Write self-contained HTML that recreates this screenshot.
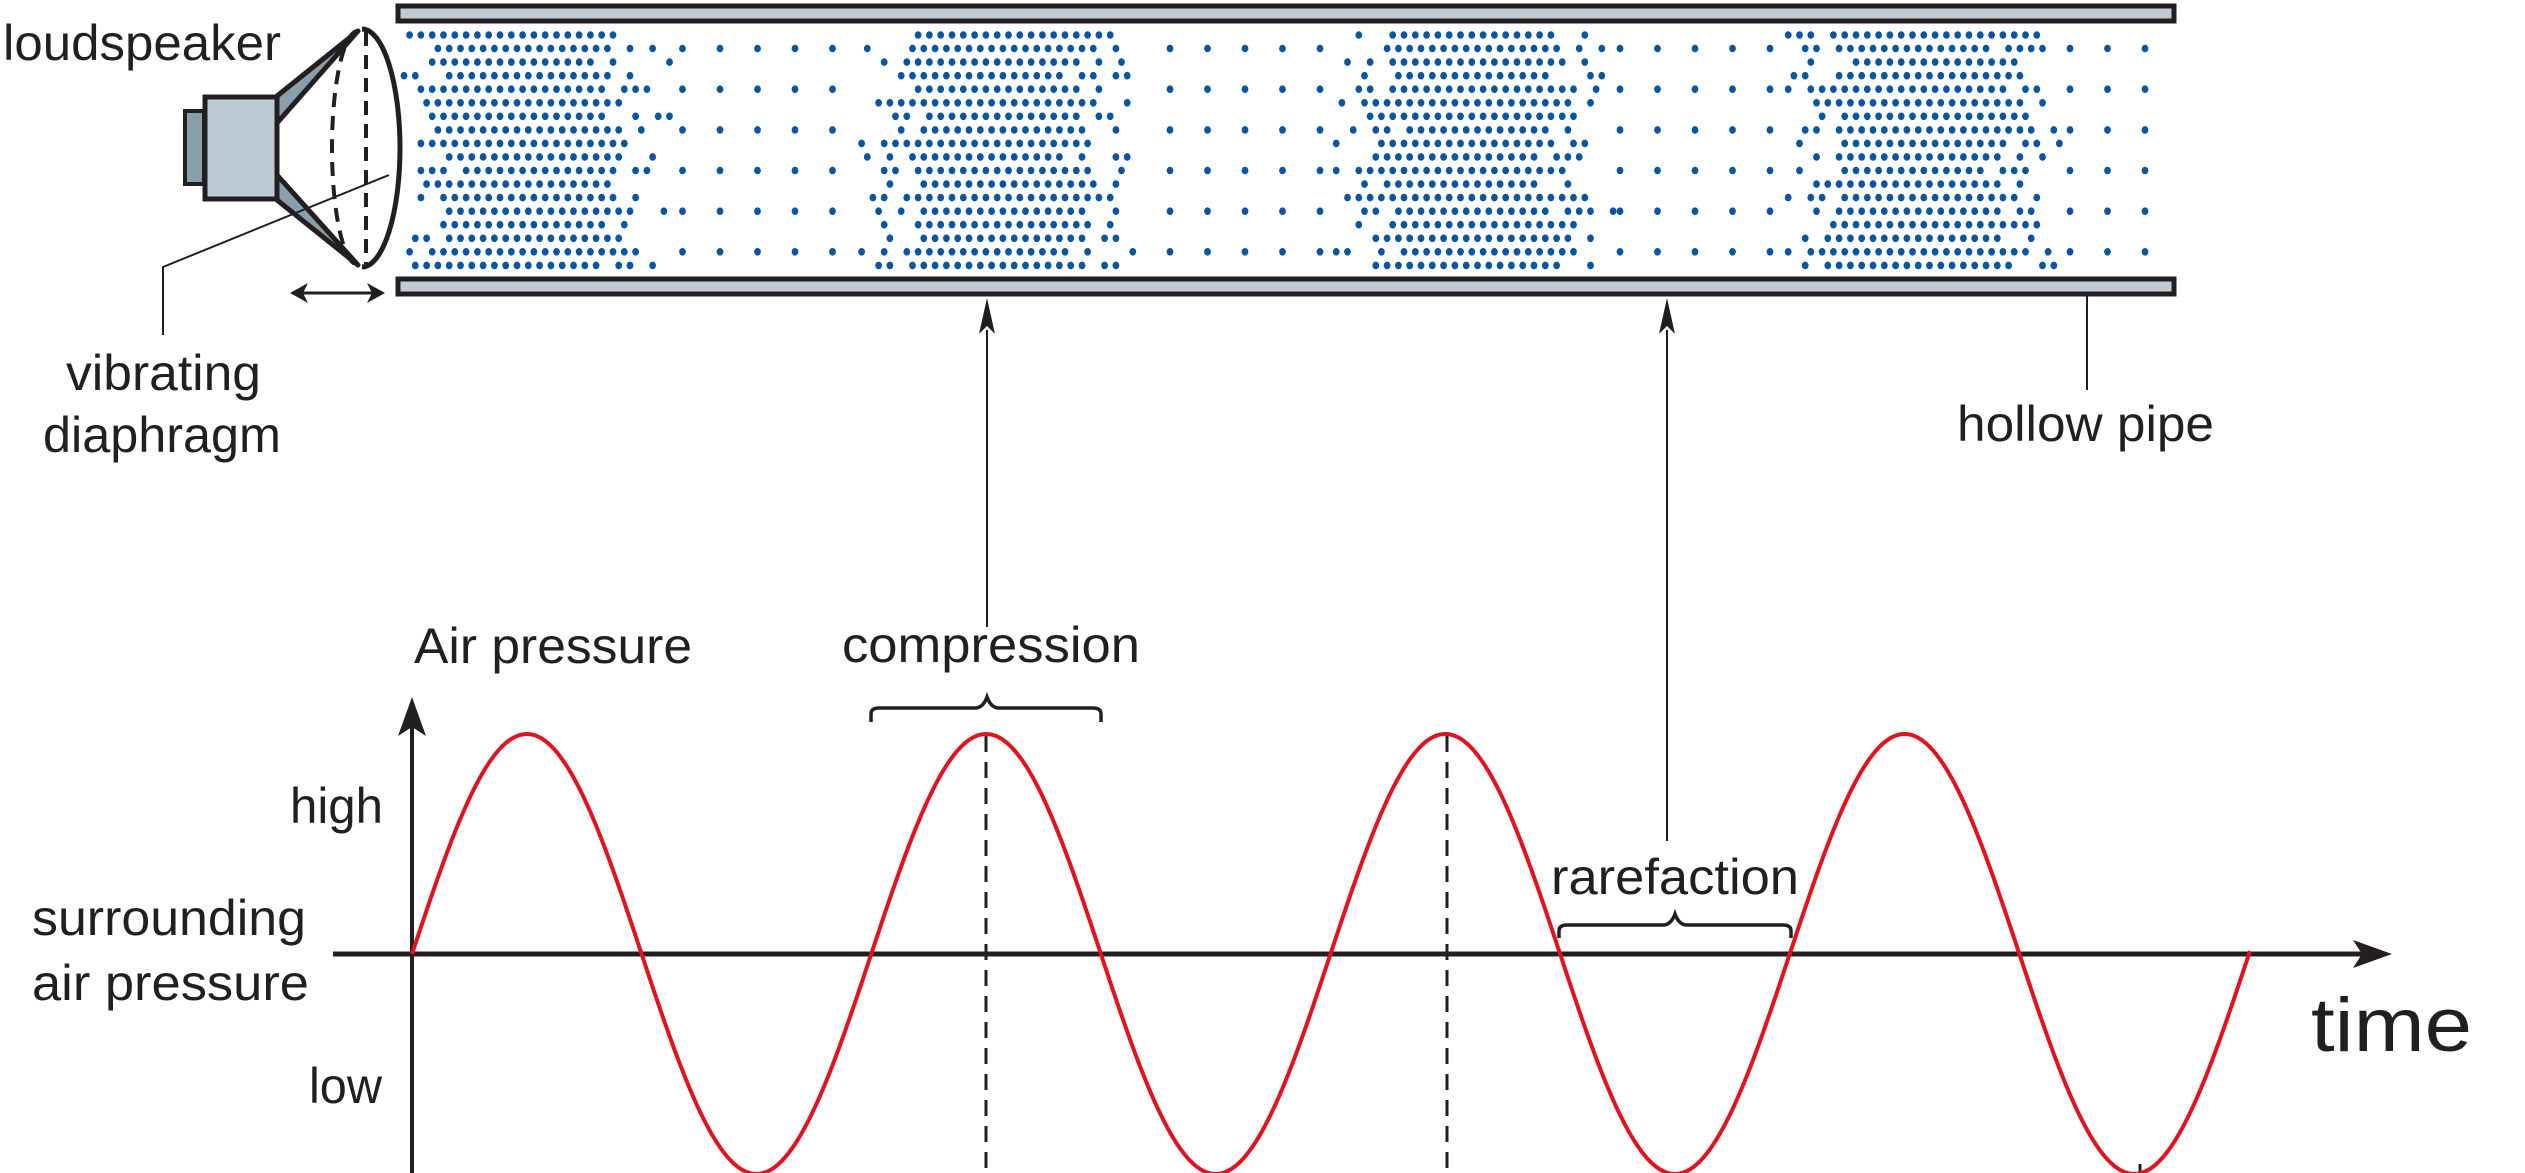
<!DOCTYPE html>
<html><head><meta charset="utf-8"><style>
html,body{margin:0;padding:0;background:#fff;}
svg{display:block;}
text{font-family:"Liberation Sans",sans-serif;fill:#231f20;}
</style></head><body>
<svg id="s" width="2525" height="1173" viewBox="0 0 2525 1173" xmlns="http://www.w3.org/2000/svg">
<g id="dots" fill="#0b55a0"></g>
<!-- pipe -->
<rect x="398" y="6" width="1776" height="15" fill="#bfcad2" stroke="#231f20" stroke-width="5"/>
<rect x="398" y="279" width="1776" height="15" fill="#bfcad2" stroke="#231f20" stroke-width="5"/>
<!-- speaker -->
<rect x="185" y="111" width="19" height="73" fill="#8a9fac" stroke="#231f20" stroke-width="4"/>
<rect x="205" y="97" width="72" height="102" fill="#bccbd3" stroke="#231f20" stroke-width="5"/>
<polygon points="277,96 358,31 277,123" fill="#8a9fac" stroke="#231f20" stroke-width="5" stroke-linejoin="round"/>
<polygon points="277,175 358,265 277,200" fill="#8a9fac" stroke="#231f20" stroke-width="5" stroke-linejoin="round"/>
<path d="M362,29 A38,119 0 0 1 362,267" fill="none" stroke="#231f20" stroke-width="5"/>
<path d="M358,31 A26,117 0 0 0 358,265" fill="none" stroke="#231f20" stroke-width="4" stroke-dasharray="14,9"/>
<line x1="366" y1="32" x2="366" y2="264" stroke="#231f20" stroke-width="4" stroke-dasharray="14,9"/>
<polyline points="389,175 163,267 163,335" fill="none" stroke="#231f20" stroke-width="2"/>
<!-- double arrow -->
<line x1="296" y1="293" x2="378" y2="293" stroke="#231f20" stroke-width="3"/>
<polygon points="290,293 308,283 303,293 308,303" fill="#231f20"/>
<polygon points="385,293 367,283 372,293 367,303" fill="#231f20"/>
<!-- pointer arrows -->
<line x1="987" y1="330" x2="987" y2="627" stroke="#231f20" stroke-width="2"/>
<polygon points="987,298 979,334 987,326 995,334" fill="#231f20"/>
<line x1="1667" y1="330" x2="1667" y2="841" stroke="#231f20" stroke-width="2"/>
<polygon points="1667,298 1659,334 1667,326 1675,334" fill="#231f20"/>
<line x1="2087" y1="296" x2="2087" y2="390" stroke="#231f20" stroke-width="2"/>
<!-- axes -->
<line x1="412" y1="725" x2="412" y2="1173" stroke="#231f20" stroke-width="4"/>
<polygon points="412,697 398,736 412,727 426,736" fill="#231f20"/>
<line x1="333" y1="954" x2="2370" y2="954" stroke="#231f20" stroke-width="5"/>
<polygon points="2392,954 2353,940 2362,954 2353,968" fill="#231f20"/>
<!-- dashed -->
<line x1="986" y1="736" x2="986" y2="1173" stroke="#231f20" stroke-width="3" stroke-dasharray="16,10"/>
<line x1="1447" y1="736" x2="1447" y2="1173" stroke="#231f20" stroke-width="3" stroke-dasharray="16,10"/>
<line x1="2140" y1="1164" x2="2140" y2="1173" stroke="#231f20" stroke-width="3"/>
<!-- sine -->
<path id="sine" fill="none" stroke="#e0141e" stroke-width="4"/>
<!-- braces -->
<path d="M871,722 L871,714 Q871,708 879,708 L975,708 Q983,708 987,697 Q991,708 999,708 L1093,708 Q1101,708 1101,714 L1101,722" fill="none" stroke="#231f20" stroke-width="3.5"/>
<path d="M1559,938 L1559,931 Q1559,925 1567,925 L1663,925 Q1671,925 1675,914 Q1679,925 1687,925 L1783,925 Q1791,925 1791,931 L1791,938" fill="none" stroke="#231f20" stroke-width="3.5"/>
<!-- text -->
<text x="3" y="60" font-size="50" textLength="278" lengthAdjust="spacingAndGlyphs">loudspeaker</text>
<text x="66" y="390" font-size="50" textLength="195" lengthAdjust="spacingAndGlyphs">vibrating</text>
<text x="43" y="452" font-size="50" textLength="238" lengthAdjust="spacingAndGlyphs">diaphragm</text>
<text x="1957" y="441" font-size="50" textLength="257" lengthAdjust="spacingAndGlyphs">hollow pipe</text>
<text x="414" y="663" font-size="50" textLength="278" lengthAdjust="spacingAndGlyphs">Air pressure</text>
<text x="842" y="662" font-size="50" textLength="298" lengthAdjust="spacingAndGlyphs">compression</text>
<text x="290" y="823" font-size="50" textLength="93" lengthAdjust="spacingAndGlyphs">high</text>
<text x="32" y="935" font-size="50" textLength="274" lengthAdjust="spacingAndGlyphs">surrounding</text>
<text x="32" y="1000" font-size="50" textLength="277" lengthAdjust="spacingAndGlyphs">air pressure</text>
<text x="309" y="1103" font-size="50" textLength="73" lengthAdjust="spacingAndGlyphs">low</text>
<text x="1551" y="894" font-size="50" textLength="248" lengthAdjust="spacingAndGlyphs">rarefaction</text>
<text x="2311" y="1051" font-size="76" textLength="161" lengthAdjust="spacingAndGlyphs">time</text>
</svg>
<script>
(function(){
var NS="http://www.w3.org/2000/svg";
var d="",x0=412,P=459.25,A=220,Y0=954;
for(var x=x0;x<=2251;x+=2){var y=Y0-A*Math.sin(2*Math.PI*(x-x0)/P);d+=(x===x0?"M":"L")+x+","+y.toFixed(1);}
document.getElementById("sine").setAttribute("d",d);
var g=document.getElementById("dots");
var centers=[527,998,1470,1921];
function h(a,b){var n=Math.sin(a*12.9898+b*78.233)*43758.5453;return n-Math.floor(n);}
function add(x,y){var c=document.createElementNS(NS,"ellipse");c.setAttribute("cx",x.toFixed(1));c.setAttribute("cy",y.toFixed(1));c.setAttribute("rx","3.4");c.setAttribute("ry","3.8");g.appendChild(c);}
for(var r=0;r<18;r++){
 var y=35+r*13.55;
 var off=(r%2)?0:5.6;
 for(var x=404+off;x<=2152;x+=11.3){
  var dmin=1e9;for(var k=0;k<4;k++){var dd=Math.abs(x-centers[k]);if(dd<dmin)dmin=dd;}
  if(dmin<=85){ if(h(x,r)>0.07||dmin<70) add(x,y); }
  else if(dmin<=145){ var p=0.55*(145-dmin)/60+0.1; if(h(x,r*3+1)<p) add(x,y); }
 }
 if(r%3===1){
  for(var x=420;x<=2152;x+=37.5){
   var dmin=1e9;for(var k=0;k<4;k++){var dd=Math.abs(x-centers[k]);if(dd<dmin)dmin=dd;}
   if(dmin>145) add(x,y);
  }
 }
}
})();
</script>
</body></html>
